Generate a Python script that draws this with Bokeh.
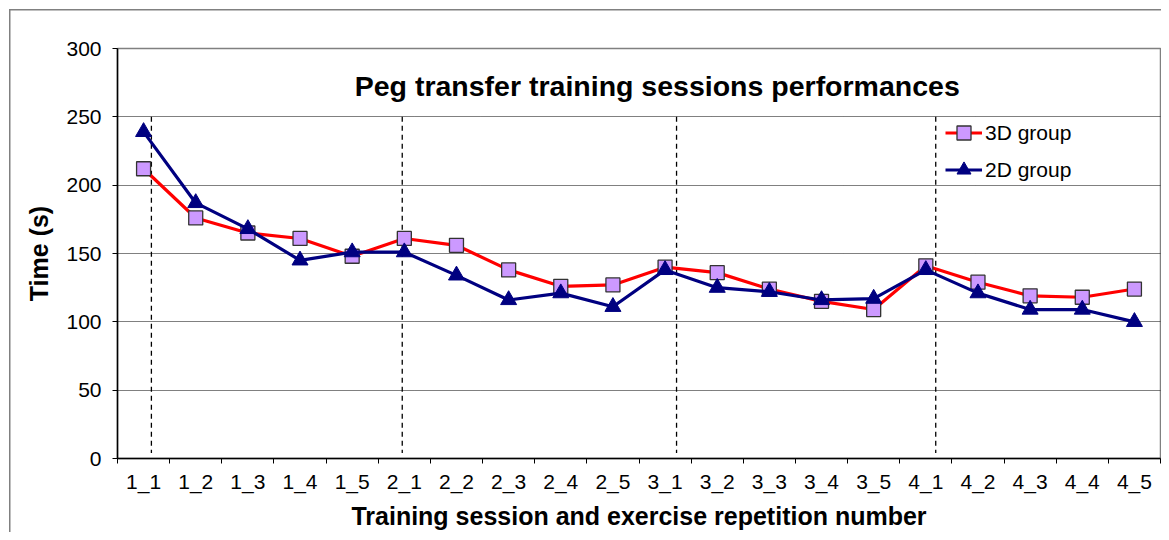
from bokeh.plotting import figure
from bokeh.models import (Range1d, FixedTicker, Label, Legend, LegendItem,
                          ColumnDataSource, CustomJSTickFormatter)
from bokeh.embed import file_html
from bokeh.resources import INLINE

categories = ["1_1", "1_2", "1_3", "1_4", "1_5",
              "2_1", "2_2", "2_3", "2_4", "2_5",
              "3_1", "3_2", "3_3", "3_4", "3_5",
              "4_1", "4_2", "4_3", "4_4", "4_5"]
group_3d = [212, 176, 165, 161, 148, 161, 156, 138, 126, 127,
            140, 136, 124, 115, 109, 141, 129, 119, 118, 124]
group_2d = [239, 187, 168, 145, 151, 151, 134, 116, 121, 111,
            138, 125, 122, 116, 117, 138, 121, 109, 109, 100]
y_ticks = [0, 50, 100, 150, 200, 250, 300]
session_marks = [0.65, 5.46, 10.72, 15.69]   # dashed session separators (category units)

FONT = "Liberation Sans"

xs = [i + 0.5 for i in range(len(categories))]

p = figure(width=1161, height=532, output_backend="svg", toolbar_location=None,
           x_range=Range1d(0, len(categories)), y_range=Range1d(0, 300),
           min_border_left=117, min_border_right=1, min_border_top=48,
           min_border_bottom=74)
p.background_fill_color = "white"
p.border_fill_alpha = 0
p.outline_line_color = "#808080"
p.outline_line_width = 1.5
p.styles = {
    "background-image": "linear-gradient(#808080,#808080), linear-gradient(#808080,#808080)",
    "background-size": "1.5px 100%, 100% 1.5px",
    "background-position": "9px 9px, 9px 9px",
    "background-repeat": "no-repeat",
}

# axes
p.yaxis.ticker = FixedTicker(ticks=y_ticks)
p.yaxis.axis_label = "Time (s)"
p.yaxis.axis_label_text_font = FONT
p.yaxis.axis_label_text_font_style = "bold"
p.yaxis.axis_label_text_font_size = "25px"
p.yaxis.axis_label_text_color = "black"
p.yaxis.axis_label_standoff = 10
p.yaxis.major_label_text_font = FONT
p.yaxis.major_label_text_font_size = "21px"
p.yaxis.major_label_text_color = "black"
p.yaxis.major_tick_out = 5
p.yaxis.major_tick_in = 0
p.yaxis.minor_tick_line_color = None
p.yaxis.axis_line_color = "black"
p.yaxis.axis_line_width = 1.5
p.yaxis.major_tick_line_color = "black"
p.yaxis.major_label_standoff = 11

p.xaxis.ticker = FixedTicker(ticks=xs, minor_ticks=list(range(len(categories) + 1)))
p.xaxis.formatter = CustomJSTickFormatter(args=dict(cats=categories),
                                          code="return cats[Math.round(tick - 0.5)];")
p.xaxis.axis_label = "Training session and exercise repetition number"
p.xaxis.axis_label_text_font = FONT
p.xaxis.axis_label_text_font_style = "bold"
p.xaxis.axis_label_text_font_size = "25px"
p.xaxis.axis_label_text_color = "black"
p.xaxis.axis_label_standoff = 6
p.xaxis.major_label_text_font = FONT
p.xaxis.major_label_text_font_size = "21px"
p.xaxis.major_label_text_color = "black"
p.xaxis.major_tick_out = 0
p.xaxis.major_tick_in = 0
p.xaxis.minor_tick_out = 5
p.xaxis.minor_tick_in = 0
p.xaxis.minor_tick_line_color = "black"
p.xaxis.major_label_standoff = 6
p.xaxis.axis_line_color = "black"
p.xaxis.axis_line_width = 1.5

p.xgrid.visible = False
p.ygrid.ticker = FixedTicker(ticks=[50, 100, 150, 200, 250])
p.ygrid.grid_line_color = "black"
p.ygrid.grid_line_dash = "1 1"
p.ygrid.grid_line_width = 1

# session separators
seg_src = ColumnDataSource(dict(x0=session_marks, x1=session_marks,
                                y0=[250] * 4, y1=[4] * 4))
p.segment(x0="x0", y0="y0", x1="x1", y1="y1", source=seg_src,
          line_color="black", line_dash="5 4", line_width=1.3)

# series
r3l = p.line(xs, group_3d, line_color="#FF0000", line_width=3.2)
r3m = p.scatter(xs, group_3d, marker="square", size=14, fill_color="#CC99FF",
                line_color="#333333", line_width=1.3)
r2l = p.line(xs, group_2d, line_color="#000080", line_width=3.2)
r2m = p.scatter(xs, group_2d, marker="triangle", size=16, fill_color="#000080",
                line_color="#000080", line_width=1)

legend = Legend(items=[LegendItem(label="3D group", renderers=[r3l, r3m]),
                       LegendItem(label="2D group", renderers=[r2l, r2m])],
                location=(828, 271), orientation="vertical")
legend.background_fill_alpha = 0
legend.border_line_color = None
legend.label_text_font = FONT
legend.label_text_font_size = "21px"
legend.label_text_color = "black"
legend.glyph_width = 37
legend.glyph_height = 35
legend.label_height = 22
legend.spacing = 2
legend.padding = 0
legend.margin = 0
legend.label_standoff = 3
p.add_layout(legend)

title = Label(x=10.35, y=272.5, text="Peg transfer training sessions performances",
              text_font=FONT, text_font_style="bold", text_font_size="28.5px",
              text_align="center", text_baseline="middle", text_color="black")
p.add_layout(title)

open("out.html", "w").write(file_html(p, INLINE))
